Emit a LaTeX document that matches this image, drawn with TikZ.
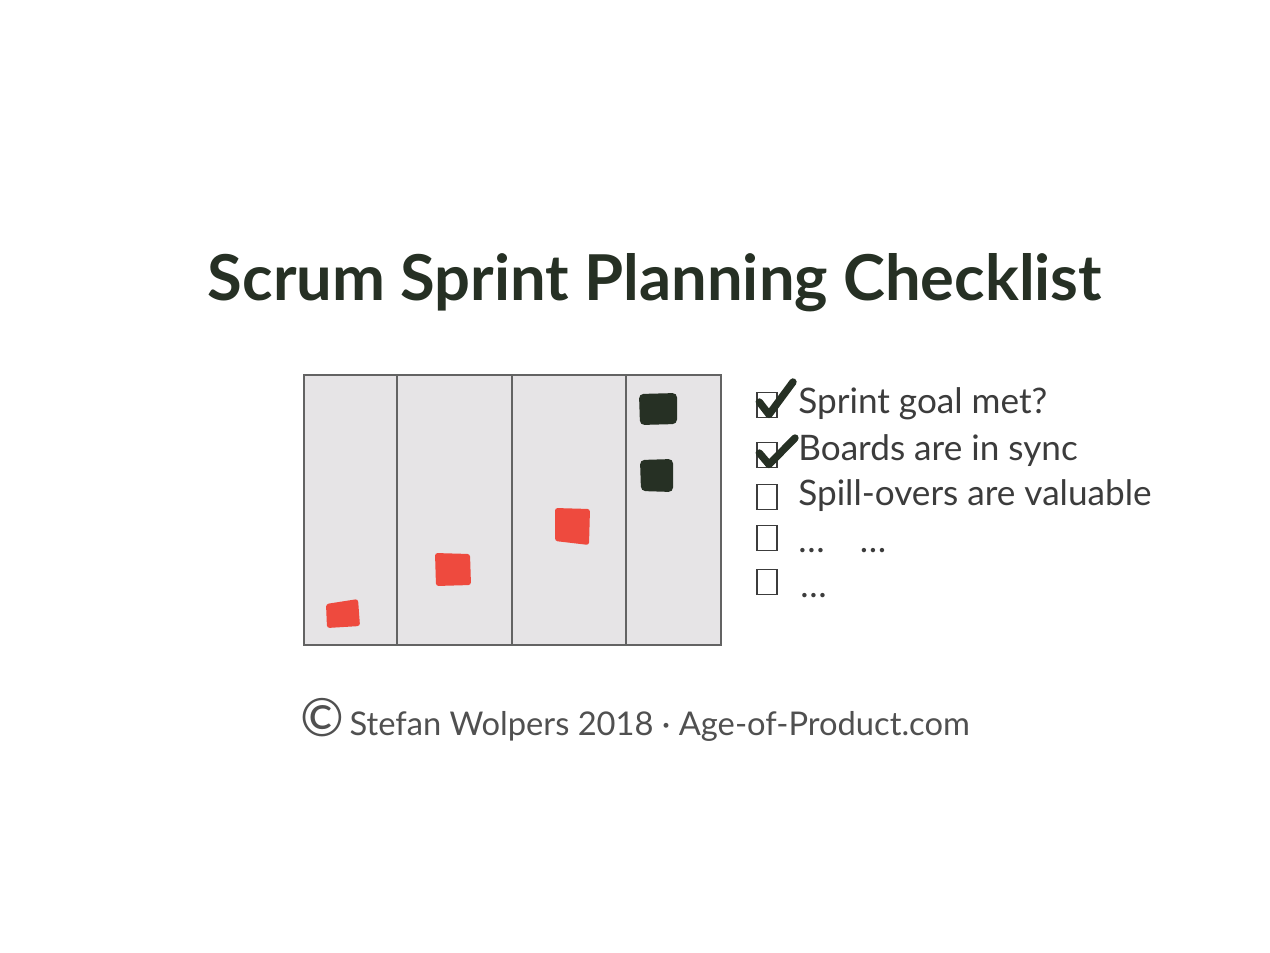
\documentclass[tikz,border=0pt]{standalone}
\usepackage{fontspec}
\setmainfont{Lato}
\usepackage{xcolor}
\usetikzlibrary{positioning}

\definecolor{inkdark}{HTML}{263024}
\definecolor{inkgray}{HTML}{3C3C3C}
\definecolor{boardfill}{HTML}{E6E4E6}
\definecolor{boardline}{HTML}{636363}
\definecolor{cardred}{HTML}{EE4A3E}

\tikzset{
  title/.style={font=\fontsize{36}{42}\selectfont\bfseries, text=inkdark, inner sep=0pt, anchor=base},
  item/.style={font=\fontsize{20}{24}\selectfont, text=inkgray, inner sep=0pt, anchor=base west},
  checkbox/.style={draw=inkgray, line width=0.8pt, minimum width=4mm, minimum height=5mm, inner sep=0pt},
  tick/.style={draw=inkdark, line width=4.2pt, line cap=round, line join=round},
  column/.style={draw=boardline, line width=1.4pt},
  redcard/.style={fill=cardred, rounded corners=1.5pt},
  darkcard/.style={fill=inkdark, rounded corners=2.5pt},
  footer/.style={font=\fontsize{18.6}{23}\selectfont, text=inkgray!90, inner sep=0pt, anchor=base west}
}

\begin{document}
\begin{tikzpicture}[x=0.2mm,y=-0.2mm]
  \useasboundingbox[fill=white] (0,0) rectangle (1270,952);

  % title
  \node[title] (heading) at (655,300) {Scrum Sprint Planning Checklist};

  % board with four columns
  \fill[boardfill] (304,375) rectangle (721,645);
  \draw[column] (304,375) rectangle (721,645);
  \draw[column] (397,375) -- (397,645);
  \draw[column] (512,375) -- (512,645);
  \draw[column] (626,375) -- (626,645);

  % cards
  \fill[redcard] (326,604) -- (358,599) -- (360,626) -- (327,628) -- cycle;
  \fill[redcard] (435,553) -- (470,554) -- (471,585) -- (436,586) -- cycle;
  \fill[redcard] (555,508) -- (590,509) -- (589,545) -- (555,541) -- cycle;
  \fill[darkcard] (639,394) -- (677,393) -- (677,424) -- (640,425) -- cycle;
  \fill[darkcard] (640,460) -- (673,459) -- (673,492) -- (641,491) -- cycle;

  % checklist
  \node[checkbox] (box1) at (767,405) {};
  \node[checkbox] (box2) at (767,455) {};
  \node[checkbox] (box3) at (767,497) {};
  \node[checkbox] (box4) at (767,538) {};
  \node[checkbox] (box5) at (767,582) {};

  \node[item] (goal) at (798,413) {Sprint goal met?};
  \node[item] (sync) at (798,460) {Boards are in sync};
  \node[item] (spill) at (798,505) {Spill-overs are valuable};
  \node[item] (more) at (798,552) {\dots\quad\dots};
  \node[item] (last) at (800,597) {\dots};

  \coordinate (tick1) at (793,382);
  \coordinate (tick2) at (795,438);
  \draw[tick] ([xshift=0.6mm,yshift=0.6mm]box1.west) -- ([xshift=0.4mm,yshift=-1.9mm]box1.center) -- (tick1);
  \draw[tick] ([xshift=0.6mm,yshift=0.4mm]box2.west) -- ([xshift=0.4mm,yshift=-1.9mm]box2.center) -- (tick2);

  % copyright line
  \node[footer] (credit) at (300,735) {\raisebox{-1pt}{\fontsize{30}{30}\selectfont ©}\,Stefan Wolpers 2018 · Age-of-Product.com};
\end{tikzpicture}
\end{document}
